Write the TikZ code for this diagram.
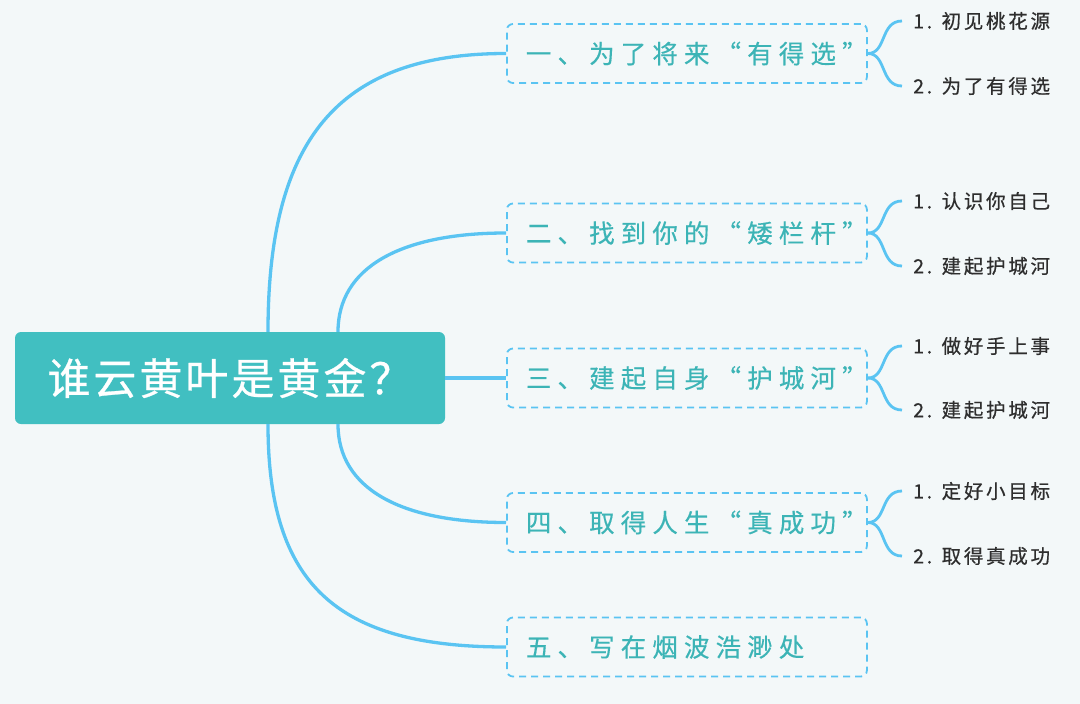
\documentclass[tikz,border=0pt]{standalone}
\usepackage{fontspec}
\usepackage{xcolor}
\newfontfamily\rootfont[LetterSpace=7,FakeBold=0.6]{Noto Sans CJK SC}
\newfontfamily\branchfont[LetterSpace=24,FakeBold=0.4]{Noto Sans CJK SC}
\newfontfamily\leaffont[LetterSpace=14,FakeBold=0.6]{Noto Sans CJK SC}
\definecolor{bgpaper}{HTML}{F3F8F9}
\definecolor{rootteal}{HTML}{41BFC1}
\definecolor{linkblue}{HTML}{5AC4F2}
\definecolor{branchtext}{HTML}{3CB4B6}
\definecolor{leaftext}{HTML}{2E2E2E}
\begin{document}
\begin{tikzpicture}[x=1pt,y=-1pt,
  rootbox/.style={fill=rootteal,rounded corners=6pt,minimum width=430pt,minimum height=92pt,text=white,font=\rootfont\fontsize{43}{46}\selectfont},
  branchbox/.style={draw=linkblue,line width=1.8pt,dash pattern=on 7pt off 5pt,rounded corners=6pt,anchor=west,text width=322pt,inner xsep=19pt,minimum height=59pt,align=left,text=branchtext,font=\branchfont\fontsize{25.5}{28}\selectfont},
  leaf/.style={anchor=west,inner sep=0pt,text=leaftext,font=\leaffont\fontsize{19.5}{22}\selectfont},
  link/.style={draw=linkblue,line width=3.3pt},
  brace/.style={draw=linkblue,line width=2.8pt}]
  \fill[bgpaper] (0,0) rectangle (1080,704); \useasboundingbox (0,0) rectangle (1080,704);
  \node[rootbox] (root) at (230,378) {谁云黄叶是黄金？};
  % branches
  \node[branchbox] (b1) at (506,53.5) {一、为了将来“有得选”};
  \node[branchbox] (b2) at (506,233) {二、找到你的“矮栏杆”};
  \node[branchbox] (b3) at (506,378) {三、建起自身“护城河”};
  \node[branchbox] (b4) at (506,522.5) {四、取得人生“真成功”};
  \node[branchbox] (b5) at (506,647) {五、写在烟波浩渺处};
  \draw[link] ([xshift=38pt]root.north) .. controls +(0,-190) and +(-170,0) .. (b1.west);
  \draw[link] ([xshift=108pt]root.north) .. controls +(0,-64) and +(-106,0) .. (b2.west);
  \draw[link] (root.east) -- (b3.west);
  \draw[link] ([xshift=108pt]root.south) .. controls +(0,64) and +(-106,0) .. (b4.west);
  \draw[link] ([xshift=38pt]root.south) .. controls +(0,160) and +(-170,0) .. (b5.west);
  % leaves
  \node[leaf] (l11) at (913,21) {1. 初见桃花源};  \node[leaf] (l12) at (913,86) {2. 为了有得选};
  \node[leaf] (l21) at (913,201) {1. 认识你自己};  \node[leaf] (l22) at (913,266) {2. 建起护城河};
  \node[leaf] (l31) at (913,346) {1. 做好手上事};  \node[leaf] (l32) at (913,410) {2. 建起护城河};
  \node[leaf] (l41) at (913,491) {1. 定好小目标};  \node[leaf] (l42) at (913,556) {2. 取得真成功};
  \foreach \b/\l in {b1/l11,b1/l12,b2/l21,b2/l22,b3/l31,b3/l32,b4/l41,b4/l42}
    \draw[brace] (\b.east) .. controls +(19,0) and +(-22,0) .. ([xshift=-11pt]\l.west);
\end{tikzpicture}
\end{document}
